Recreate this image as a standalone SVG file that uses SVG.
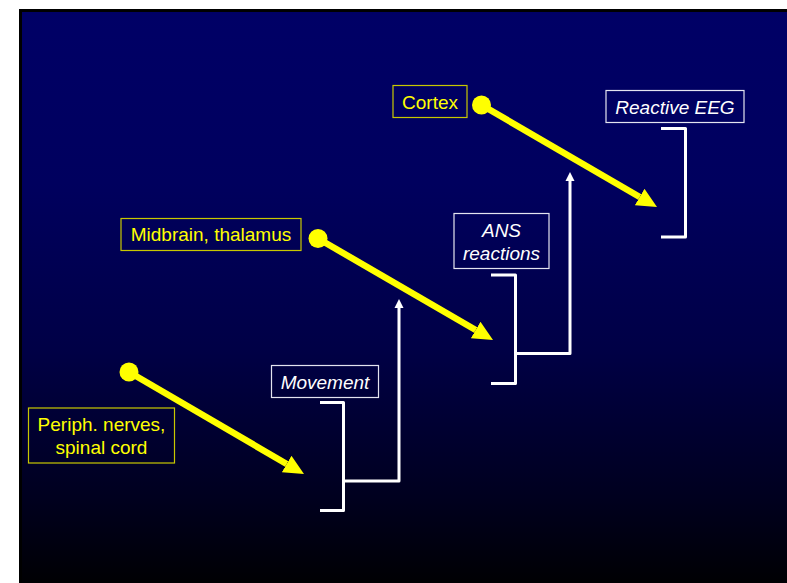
<svg xmlns="http://www.w3.org/2000/svg" width="787" height="583" viewBox="0 0 787 583">
  <defs>
    <linearGradient id="bg" x1="0" y1="12" x2="0" y2="583" gradientUnits="userSpaceOnUse">
      <stop offset="0" stop-color="#000066"/>
      <stop offset="0.3" stop-color="#00005e"/>
      <stop offset="0.59" stop-color="#000046"/>
      <stop offset="0.855" stop-color="#00001e"/>
      <stop offset="1" stop-color="#000003"/>
    </linearGradient>
    <marker id="yHead" markerUnits="userSpaceOnUse" markerWidth="22" markerHeight="20" refX="0" refY="10" orient="auto" viewBox="0 0 22 20">
      <path d="M0,0.5 L20,10 L0,19.5 z" fill="#ffff00"/>
    </marker>
    <marker id="yDot" markerUnits="userSpaceOnUse" markerWidth="20" markerHeight="20" refX="10" refY="10" viewBox="0 0 20 20">
      <circle cx="10" cy="10" r="9.5" fill="#ffff00"/>
    </marker>
    <marker id="wHead" markerUnits="userSpaceOnUse" markerWidth="10" markerHeight="10" refX="0" refY="5" orient="auto" viewBox="0 0 10 10">
      <path d="M0,0.5 L9,5 L0,9.5 z" fill="#ffffff"/>
    </marker>
  </defs>
  <style>
    .ybox { fill: none; stroke: #c8c800; stroke-width: 1.2; }
    .wbox { fill: none; stroke: #e4e4f0; stroke-width: 1.2; }
    .ytxt { font-family: "Liberation Sans", Arial, sans-serif; font-size: 19px; fill: #ffff00; text-anchor: middle; }
    .wtxt { font-family: "Liberation Sans", Arial, sans-serif; font-size: 19px; font-style: italic; fill: #ffffff; text-anchor: middle; }
    .yarrow { fill: none; stroke: #ffff00; stroke-width: 6.5; marker-start: url(#yDot); marker-end: url(#yHead); }
    .bracket { fill: none; stroke: #ffffff; stroke-width: 3; stroke-linejoin: round; }
    .warrow { fill: none; stroke: #ffffff; stroke-width: 3; stroke-linejoin: round; marker-end: url(#wHead); }
  </style>

  <!-- slide background -->
  <rect x="19" y="9" width="768" height="574" fill="#000000"/>
  <rect x="22" y="12" width="765" height="571" fill="url(#bg)"/>

  <!-- nodes -->
  <g id="cortex">
    <rect class="ybox" x="393" y="85.5" width="74" height="32"/>
    <text class="ytxt" x="430" y="108.5">Cortex</text>
  </g>
  <g id="midbrain">
    <rect class="ybox" x="121" y="218.5" width="180" height="32"/>
    <text class="ytxt" x="211" y="241">Midbrain, thalamus</text>
  </g>
  <g id="periph">
    <rect class="ybox" x="28.5" y="408" width="146" height="55"/>
    <text class="ytxt" x="101.5" y="431">Periph. nerves,</text>
    <text class="ytxt" x="101.5" y="453.5">spinal cord</text>
  </g>
  <g id="reactive-eeg">
    <rect class="wbox" x="606" y="90.5" width="138" height="32"/>
    <text class="wtxt" x="675" y="114">Reactive EEG</text>
  </g>
  <g id="ans">
    <rect class="wbox" x="454" y="213.5" width="95" height="55"/>
    <text class="wtxt" x="501.5" y="236.5">ANS</text>
    <text class="wtxt" x="501.5" y="259.5">reactions</text>
  </g>
  <g id="movement">
    <rect class="wbox" x="271.5" y="365.5" width="107" height="32"/>
    <text class="wtxt" x="325" y="389">Movement</text>
  </g>

  <!-- connectors -->
  <g id="connectors">
    <line class="yarrow" x1="481.5" y1="105" x2="639.7" y2="197"/>
    <line class="yarrow" x1="318" y1="238.5" x2="475.7" y2="330"/>
    <line class="yarrow" x1="129" y1="372" x2="286.7" y2="464"/>

    <path class="bracket" d="M320,402.5 H343.5 V510.5 H320"/>
    <path class="bracket" d="M491,275 H515.5 V383.5 H491"/>
    <path class="bracket" d="M661,128.5 H685.5 V237 H661"/>

    <path class="warrow" d="M343.5,481 H399 V308"/>
    <path class="warrow" d="M515.5,353.5 H570 V181"/>
  </g>
</svg>
